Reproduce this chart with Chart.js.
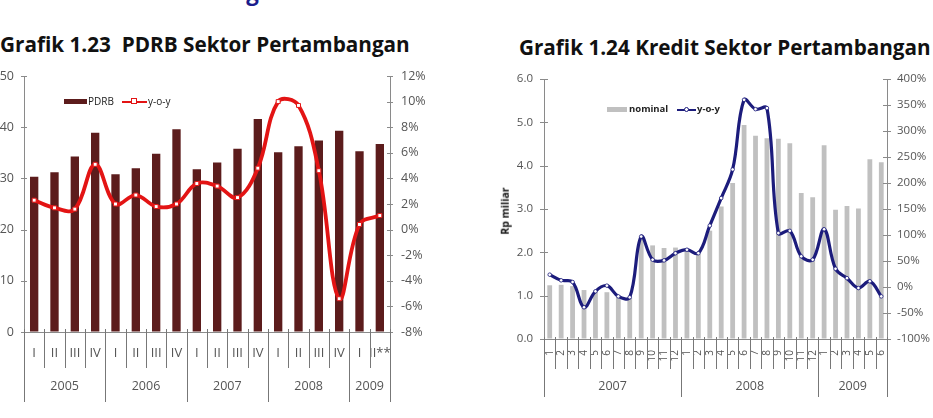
<!DOCTYPE html>
<html><head><meta charset="utf-8">
<script src="https://cdn.jsdelivr.net/npm/chart.js@4.4.1/dist/chart.umd.min.js"></script>
<style>
html,body{margin:0;padding:0;background:#fff;width:933px;height:418px;overflow:hidden;position:relative;font-family:"Open Sans",sans-serif;}
.t{position:absolute;white-space:nowrap;font-weight:bold;color:#111;line-height:1;font-family:"Open Sans",sans-serif;}
#w1{position:absolute;left:0;top:0;width:455px;height:418px;}
#w2{position:absolute;left:480px;top:0;width:453px;height:418px;}
.lg{position:absolute;font-size:10px;color:#222;line-height:1;white-space:nowrap;font-family:"Open Sans",sans-serif;}
.sw{position:absolute;}
</style></head><body>
<div class="t" id="top0" style="color:#1c1c8c;font-size:17px;left:97px;">2. Pertambangan</div>
<div class="t" id="tt1" style="font-size:17px;left:0px;">Grafik 1.23&nbsp;&nbsp;PDRB Sektor Pertambangan</div>
<div class="t" id="tt2" style="font-size:17px;left:519px;">Grafik 1.24 Kredit Sektor Pertambangan</div>
<div id="w1"><canvas id="c1"></canvas></div>
<div id="w2"><canvas id="c2"></canvas></div>
<div class="t" id="ytitle" style="font-size:10.5px;left:505px;top:211px;transform:translate(-50%,-50%) rotate(-90deg);">Rp miliar</div>
<!-- legend chart 1 -->
<div class="sw" style="left:64px;top:99px;width:23px;height:5px;background:#5c1c1c;"></div>
<div class="lg" style="left:88px;top:96px;">PDRB</div>
<div class="sw" style="left:122px;top:101px;width:25px;height:2px;background:#e31414;"></div>
<div class="sw" style="left:131px;top:98px;width:4px;height:4px;background:#fff;border:1px solid #e31414;"></div>
<div class="lg" style="left:148px;top:96px;">y-o-y</div>
<!-- legend chart 2 -->
<div class="sw" style="left:607px;top:107px;width:20px;height:5px;background:#c0c0c0;"></div>
<div class="lg" style="left:629px;top:104px;font-weight:bold;font-size:9.5px;">nominal</div>
<div class="sw" style="left:677px;top:109px;width:19px;height:1.5px;background:#1c1c7c;"></div>
<div class="sw" style="left:684px;top:107px;width:3px;height:3px;border-radius:50%;background:#fff;border:1px solid #1c1c7c;"></div>
<div class="lg" style="left:697px;top:104px;font-weight:bold;font-size:9.5px;">y-o-y</div>
<script>
// ---------- data: chart 1 (PDRB) ----------
const quarterLabels = ['I','II','III','IV','I','II','III','IV','I','II','III','IV','I','II','III','IV','I','II**'];
const quarterYears = ['2005','2006','2007','2008','2009'];
const quarterYearCounts = [4,4,4,4,2];
const pdrbValues = [30.3,31.2,34.3,38.9,30.8,32.0,34.8,39.6,31.8,33.1,35.8,41.6,35.1,36.3,37.4,39.3,35.3,36.7];
const pdrbYoy = [2.3,1.7,1.6,5.1,2.0,2.7,1.8,2.0,3.6,3.4,2.5,4.8,10.0,9.7,4.6,-5.4,0.4,1.1];
// ---------- data: chart 2 (Kredit) ----------
const monthLabels = ['1','2','3','4','5','6','7','8','9','10','11','12','1','2','3','4','5','6','7','8','9','10','11','12','1','2','3','4','5','6'];
const monthYears = ['2007','2008','2009'];
const monthYearCounts = [12,12,6];
const kreditNominal = [1.24,1.25,1.22,1.13,1.12,1.08,0.98,0.95,2.3,2.16,2.10,2.11,2.05,1.98,2.5,3.06,3.6,4.94,4.69,4.63,4.62,4.52,3.37,3.27,4.47,2.98,3.07,3.01,4.15,4.08];
const kreditYoy = [23.7,12.8,9.6,-39,-8.3,2.6,-18,-19.8,97,52.5,51.2,65,71.7,65,118,171,226,360,342,344,103.7,108,59,52.5,111,35,17,-2,11,-18];

// ---------- text fitting ----------
function place(id, width, baseline){
  const el=document.getElementById(id);
  const fs=parseFloat(getComputedStyle(el).fontSize);
  const nf=fs*width/el.getBoundingClientRect().width;
  el.style.fontSize=nf+'px';
  el.style.top=(baseline-0.888*nf)+'px';
}
place('top0',190,1);
place('tt1',410,52);
place('tt2',412,55);

// ---------- plugins ----------
const yTickCross={
  id:'yTickCross',
  afterDraw(chart,args,opts){
    const ctx=chart.ctx; ctx.save(); ctx.strokeStyle=opts.color; ctx.lineWidth=1;
    for(const id of ['y','y1']){
      const s=chart.scales[id]; const ax=(s.position==='left'?s.right:s.left);
      s.ticks.forEach((t,i)=>{const py=Math.round(s.getPixelForTick(i))+0.5;ctx.beginPath();ctx.moveTo(ax-opts.len,py);ctx.lineTo(ax+opts.len,py);ctx.stroke();});
    }
    ctx.restore();
  }
};
const catDividers={
  id:'catDividers',
  afterDraw(chart,args,opts){
    const x=chart.scales.x, ctx=chart.ctx, n=chart.data.labels.length;
    const cum=[0]; opts.counts.forEach(c=>cum.push(cum[cum.length-1]+c));
    ctx.save(); ctx.strokeStyle=opts.color; ctx.lineWidth=1;
    for(let b=0;b<=n;b++){
      const px=Math.round(x.getPixelForValue(b-0.5))+0.5;
      const long=cum.includes(b);
      ctx.beginPath(); ctx.moveTo(px,x.top-opts.up); ctx.lineTo(px,long?opts.longBottom:opts.shortBottom); ctx.stroke();
    }
    ctx.fillStyle=opts.textColor; ctx.font=opts.font; ctx.textAlign='center'; ctx.textBaseline='middle';
    opts.years.forEach((yr,k)=>{
      const cx=x.getPixelForValue((cum[k]+cum[k+1]-1)/2);
      ctx.fillText(yr,cx,opts.yearY);
    });
    ctx.restore();
  }
};

const axisGray='#8a8a8a', tickGray='#555';
const tf='"Open Sans", sans-serif';

// ---------- chart 1 ----------
new Chart(document.getElementById('c1'),{
  type:'bar',
  data:{labels:quarterLabels,datasets:[
    {type:'line',label:'y-o-y',data:pdrbYoy,yAxisID:'y1',order:0,borderColor:'#e31414',borderWidth:3.8,tension:0.38,
     pointStyle:'rect',pointRadius:2.8,pointBackgroundColor:'#fff',pointBorderColor:'#e31414',pointBorderWidth:1,fill:false},
    {type:'bar',label:'PDRB',data:pdrbValues,yAxisID:'y',order:1,backgroundColor:'#5c1c1c',barPercentage:0.41,categoryPercentage:1}
  ]},
  options:{
    responsive:true,maintainAspectRatio:false,animation:false,
    layout:{padding:{top:76,bottom:0,left:0,right:0}},
    plugins:{legend:{display:false},tooltip:{enabled:false},
      yTickCross:{color:axisGray,len:3},
      catDividers:{counts:quarterYearCounts,years:quarterYears,up:3,shortBottom:368,longBottom:402,color:'#777',textColor:tickGray,font:'12.5px '+tf,yearY:386}},
    scales:{
      x:{offset:true,grid:{display:true,drawOnChartArea:false,drawTicks:false},border:{display:true,color:axisGray},
         ticks:{color:tickGray,font:{family:tf,size:13},padding:13,maxRotation:0,autoSkip:false},
         afterFit(s){s.height=86;}},
      y:{position:'left',min:0,max:50,grid:{display:true,drawOnChartArea:false,drawTicks:false},border:{display:true,color:axisGray},
         ticks:{stepSize:10,color:tickGray,font:{family:tf,size:12.5},padding:10},afterFit(s){s.width=24;}},
      y1:{position:'right',min:-8,max:12,grid:{display:true,drawOnChartArea:false,drawTicks:false},border:{display:true,color:axisGray},
         ticks:{stepSize:2,color:tickGray,font:{family:tf,size:12.5},padding:11,callback:v=>v+'%'},afterFit(s){s.width=65;}}
    }
  },
  plugins:[yTickCross,catDividers]
});

// ---------- chart 2 ----------
new Chart(document.getElementById('c2'),{
  type:'bar',
  data:{labels:monthLabels,datasets:[
    {type:'line',label:'y-o-y',data:kreditYoy,yAxisID:'y1',order:0,borderColor:'#1c1c7c',borderWidth:3.2,tension:0.38,
     pointStyle:'circle',pointRadius:1.8,pointBackgroundColor:'#fff',pointBorderColor:'#1c1c7c',pointBorderWidth:0.8,fill:false},
    {type:'bar',label:'nominal',data:kreditNominal,yAxisID:'y',order:1,backgroundColor:'#c0c0c0',barPercentage:0.42,categoryPercentage:1}
  ]},
  options:{
    responsive:true,maintainAspectRatio:false,animation:false,
    layout:{padding:{top:79,bottom:0,left:0,right:0}},
    plugins:{legend:{display:false},tooltip:{enabled:false},
      yTickCross:{color:axisGray,len:4},
      catDividers:{counts:monthYearCounts,years:monthYears,up:2,shortBottom:369,longBottom:397,color:'#777',textColor:tickGray,font:'12.5px '+tf,yearY:386}},
    scales:{
      x:{offset:true,grid:{display:true,drawOnChartArea:false,drawTicks:false},border:{display:true,color:axisGray},
         ticks:{color:tickGray,font:{family:tf,size:10},padding:11,minRotation:90,maxRotation:90,autoSkip:false},
         afterFit(s){s.height=79;}},
      y:{position:'left',min:0,max:6,grid:{display:true,drawOnChartArea:false,drawTicks:false},border:{display:true,color:axisGray},
         ticks:{stepSize:1,color:tickGray,font:{family:tf,size:11.5},padding:11,callback:v=>v.toFixed(1)},afterFit(s){s.width=64;}},
      y1:{position:'right',min:-100,max:400,grid:{display:true,drawOnChartArea:false,drawTicks:false},border:{display:true,color:axisGray},
         ticks:{stepSize:50,color:tickGray,font:{family:tf,size:11.5},padding:10,callback:v=>v+'%'},afterFit(s){s.width=46;}}
    }
  },
  plugins:[yTickCross,catDividers]
});
</script>
</body></html>
